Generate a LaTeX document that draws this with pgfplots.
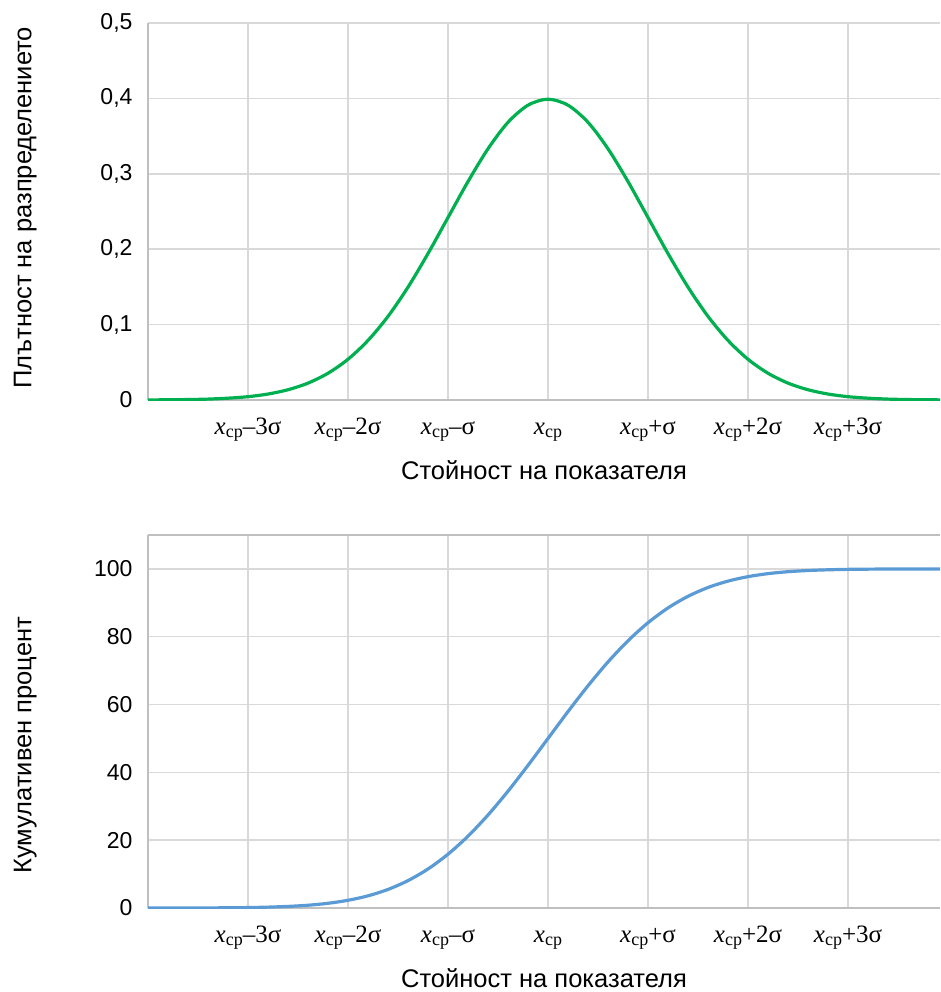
\documentclass[border=0pt]{standalone}
\usepackage{pgfplots}
\pgfplotsset{compat=1.18}
\usepackage{pgfplotstable}
\usepackage{fontspec}
\setmainfont{Liberation Sans}
\newfontfamily\tnr{Liberation Serif}
\definecolor{gridc}{RGB}{217,217,217}
\definecolor{axc}{RGB}{191,191,191}
\definecolor{pdfc}{RGB}{0,176,80}
\definecolor{cdfc}{RGB}{91,155,213}
\newcommand\xl[1]{{\tnr\textit{x}\raisebox{-0.28ex}{\fontsize{18}{20}\selectfont ср}#1}}

% x in sigma units, density, cumulative percent
\pgfplotstableread{
x     pdf     cdf
-4.0  0.0001  0.00
-3.8  0.0003  0.01
-3.6  0.0006  0.02
-3.4  0.0012  0.03
-3.2  0.0024  0.07
-3.0  0.0044  0.13
-2.8  0.0079  0.26
-2.6  0.0136  0.47
-2.4  0.0224  0.82
-2.2  0.0355  1.39
-2.0  0.0540  2.28
-1.8  0.0790  3.59
-1.6  0.1109  5.48
-1.4  0.1497  8.08
-1.2  0.1942  11.51
-1.0  0.2420  15.87
-0.8  0.2897  21.19
-0.6  0.3332  27.43
-0.4  0.3683  34.46
-0.2  0.3910  42.07
0.0   0.3989  50.00
0.2   0.3910  57.93
0.4   0.3683  65.54
0.6   0.3332  72.57
0.8   0.2897  78.81
1.0   0.2420  84.13
1.2   0.1942  88.49
1.4   0.1497  91.92
1.6   0.1109  94.52
1.8   0.0790  96.41
2.0   0.0540  97.72
2.2   0.0355  98.61
2.4   0.0224  99.18
2.6   0.0136  99.53
2.8   0.0079  99.74
3.0   0.0044  99.87
3.2   0.0024  99.93
3.4   0.0012  99.97
3.6   0.0006  99.98
3.8   0.0003  99.99
4.0   0.0001  100.00
}\normtab

\pgfplotsset{
  common/.style={
    scale only axis, width=792pt,
    xmin=-4, xmax=3.92, ymin=0,
    axis y line*=left, axis x line*=bottom,
    axis line style={axc, line width=1.5pt},
    grid=major, major grid style={gridc, line width=1.5pt},
    major tick length=0pt,
    xtick={-3,-2,-1,0,1,2,3},
    xticklabels={\xl{–3σ},\xl{–2σ},\xl{–σ},\xl{},\xl{+σ},\xl{+2σ},\xl{+3σ}},
    xticklabel style={font=\fontsize{25}{28}\selectfont, anchor=base, yshift=-34pt},
    yticklabel style={font=\fontsize{23}{26}\selectfont, xshift=-12pt},
    label style={font=\fontsize{25.5}{28}\selectfont},
    /pgf/number format/assume math mode=true,
    xlabel={Стойност на показателя},
  }
}

\begin{document}
\begin{tikzpicture}
\useasboundingbox (0,0) rectangle (941pt,-992pt);
\begin{axis}[common,
  at={(148pt,-400pt)}, anchor=south west, height=377pt,
  ymax=0.5, ytick={0,0.1,0.2,0.3,0.4,0.5},
  yticklabel style={/pgf/number format/.cd,use comma,fixed,precision=1},
  ylabel={Плътност на разпределението},
  ylabel style={at={(axis description cs:-0.155,0.51)}, anchor=center},
  xlabel style={at={(axis description cs:0.5,-0.186)}, anchor=center},
]
  \addplot[pdfc, line width=3.2pt, smooth, no marks] table[x=x,y=pdf]{\normtab};
\end{axis}
\begin{axis}[common,
  at={(148pt,-908pt)}, anchor=south west, height=373pt,
  ymax=110, ytick={0,20,40,60,80,100},
  extra y ticks={110}, extra y tick labels={},
  extra y tick style={grid=major, major grid style={axc, line width=1.5pt}},
  ylabel={Кумулативен процент},
  ylabel style={at={(axis description cs:-0.155,0.436)}, anchor=center},
  xlabel style={at={(axis description cs:0.5,-0.188)}, anchor=center},
]
  \addplot[cdfc, line width=3.2pt, smooth, no marks] table[x=x,y=cdf]{\normtab};
\end{axis}
\end{tikzpicture}
\end{document}
